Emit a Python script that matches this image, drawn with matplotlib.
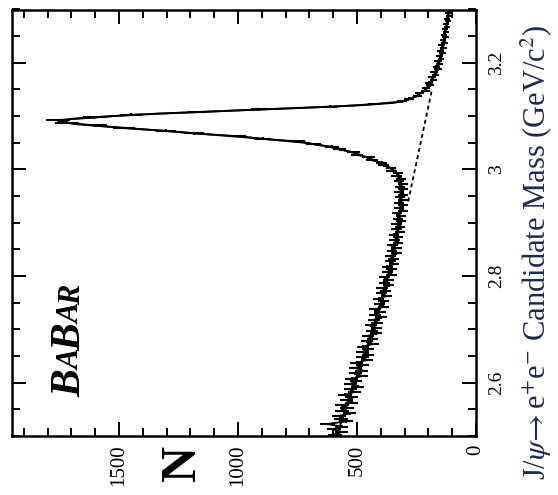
import numpy as np
import matplotlib
matplotlib.use("Agg")
import matplotlib.pyplot as plt
from matplotlib.ticker import MultipleLocator, FixedLocator

plt.rcParams['font.family'] = ['Liberation Serif', 'DejaVu Serif']
plt.rcParams['mathtext.fontset'] = 'stix'

# ---------------- data ----------------
mass_lo = 2.5          # GeV/c^2, first bin lower edge
bin_width = 0.005      # GeV/c^2
counts = [
    593, 565, 596, 565, 624, 546, 567, 576, 530, 563,
    542, 564, 523, 545, 523, 551, 511, 527, 497, 528,
    504, 523, 479, 507, 481, 505, 477, 501, 459, 477,
    455, 477, 455, 475, 433, 457, 435, 455, 421, 439,
    418, 442, 415, 430, 399, 425, 404, 423, 390, 406,
    388, 409, 376, 397, 380, 395, 366, 386, 366, 384,
    356, 373, 354, 372, 344, 361, 348, 361, 335, 353,
    335, 352, 327, 343, 328, 344, 321, 334, 319, 335,
    315, 329, 314, 331, 308, 323, 308, 324, 307, 321,
    307, 323, 308, 320, 308, 325, 315, 334, 329, 355,
    357, 388, 396, 439, 452, 500, 516, 573, 605, 682,
    750, 897, 1005, 1184, 1303, 1480, 1600, 1720, 1755, 1605,
    1450, 1170, 910, 612, 428, 309, 281, 246, 239, 212,
    211, 192, 196, 178, 184, 169, 176, 160, 167, 153,
    160, 147, 154, 141, 148, 136, 144, 132, 139, 129,
    135, 125, 131, 121, 127, 117, 123, 113, 119, 110,
]

fit_mass = [2.50, 2.55, 2.60, 2.65, 2.70, 2.75, 2.80, 2.85, 2.90, 2.95,
            2.975, 2.99, 3.00, 3.01, 3.02, 3.03, 3.04, 3.05, 3.06, 3.07,
            3.08, 3.085, 3.09, 3.095, 3.10, 3.105, 3.11, 3.115, 3.12, 3.125,
            3.13, 3.14, 3.15, 3.16, 3.18, 3.20, 3.25, 3.30]
fit_counts = [585, 549, 511, 471, 432, 399, 370, 345, 325, 313,
              314, 326, 350, 388, 443, 505, 590, 715, 960, 1245,
              1540, 1680, 1755, 1700, 1530, 1320, 1040, 760, 500, 345,
              287, 242, 211, 194, 170, 155, 132, 112]

bkg_mass = [2.94, 3.15]
bkg_counts = [285, 185]

n_ticks = [0, 500, 1000, 1500]
n_tick_labels = ["0", "500", "1000", "1500"]
mass_ticks = [2.6, 2.8, 3.0, 3.2]
mass_tick_labels = ["2.6", "2.8", "3", "3.2"]

mass_label = r"J/$\psi\!\rightarrow$e$^{+}$e$^{-}$ Candidate Mass (GeV/c$^{2}$)"
n_label = "N"
babar_parts = [("B", 30), ("A", 22), ("B", 30), ("A", 22), ("R", 22)]

# ---------------- figure ----------------
W, H = 558, 495
fig = plt.figure(figsize=(W / 100, H / 100), dpi=100)
fig.patch.set_facecolor("white")
ax = fig.add_axes([12 / W, 59 / H, 464 / W, 426.5 / H])

counts_arr = np.array(counts, dtype=float)
mass_centres = mass_lo + bin_width * (np.arange(len(counts)) + 0.5)

# Chart is shown rotated by 90 degrees: N runs right-to-left, mass bottom-to-top
ax.errorbar(counts_arr, mass_centres, xerr=np.sqrt(counts_arr) * 1.2, yerr=bin_width / 2,
            fmt='none', ecolor='black', elinewidth=1.5, capsize=0)
ax.plot(counts_arr, mass_centres, color='black', lw=1.3)
ax.plot(fit_counts, fit_mass, color='black', lw=1.4)
ax.plot(bkg_counts, bkg_mass, color='black', lw=1.3, ls=(0, (2.2, 1.8)))

ax.set_xlim(1950, 0)
ax.set_ylim(2.5, 3.3)

ax.xaxis.set_major_locator(FixedLocator(n_ticks))
ax.set_xticklabels(n_tick_labels)
ax.xaxis.set_minor_locator(MultipleLocator(100))
ax.yaxis.set_major_locator(FixedLocator(mass_ticks))
ax.set_yticklabels(mass_tick_labels)
ax.yaxis.set_minor_locator(MultipleLocator(0.05))

ax.tick_params(which='both', direction='in', top=True, bottom=True, left=True, right=True,
               labelleft=False, labelright=True, labelbottom=True, labeltop=False,
               width=1.4, color='black')
ax.tick_params(which='major', length=10)
ax.tick_params(which='minor', length=6)
ax.tick_params(axis='x', which='major', labelrotation=90, labelsize=15, pad=6)
ax.tick_params(axis='y', which='major', labelrotation=90, labelsize=14, pad=9)
for lab in ax.get_yticklabels():
    lab.set_va('center')
for s in ax.spines.values():
    s.set_linewidth(1.8)

ax.set_xlabel(n_label, rotation=90, fontsize=36, fontweight='bold')
ax.xaxis.set_label_coords(0.368, -0.02)
ax.xaxis.label.set_va('top')

ax.yaxis.set_label_position('right')
ax.set_ylabel(mass_label, fontsize=22, color='#1d2b50', rotation=90)
ax.yaxis.set_label_coords(1.092, 0.43)

# BABAR logo text, built letter by letter
fig.canvas.draw()
renderer = fig.canvas.get_renderer()
xb, yb = 80, H - 397
for s, fs in babar_parts:
    t = fig.text(xb / W, yb / H, s, rotation=90, rotation_mode='anchor',
                 ha='left', va='baseline', fontsize=fs, fontweight='bold',
                 fontstyle='italic', color='black')
    bb = t.get_window_extent(renderer)
    yb = bb.y1 - 1

fig.savefig("out.png", dpi=100, facecolor='white')
